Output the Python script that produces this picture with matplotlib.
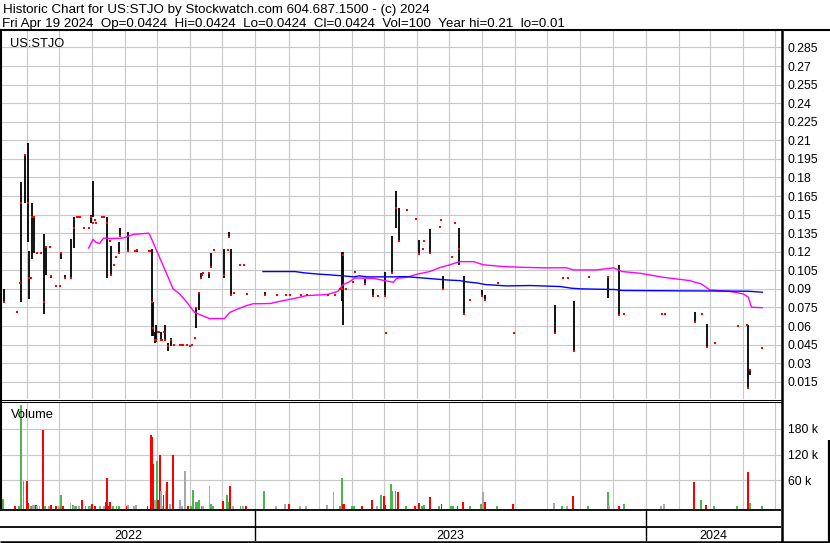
import numpy as np
import pandas as pd
import matplotlib
matplotlib.use("Agg")
import matplotlib.pyplot as plt
import matplotlib.dates as mdates
import matplotlib.transforms as mtransforms
from matplotlib.lines import Line2D


# ===============================
# Chart data
# ===============================

TITLE = "Historic Chart for US:STJO by Stockwatch.com 604.687.1500 - (c) 2024"
SUBTITLE = ("Fri Apr 19 2024  Op=0.0424  Hi=0.0424  Lo=0.0424  Cl=0.0424  "
            "Vol=100  Year hi=0.21  lo=0.01")
SYMBOL = "US:STJO"

# daily price bars: high / low range and close
price_dates = [
    "2022-05-11", "2022-05-23", "2022-05-26", "2022-05-27", "2022-05-30",
    "2022-06-02", "2022-06-03", "2022-06-05", "2022-06-06", "2022-06-08",
    "2022-06-11", "2022-06-14", "2022-06-17", "2022-06-19", "2022-06-23",
    "2022-06-24", "2022-06-28", "2022-07-02", "2022-07-03", "2022-07-07",
    "2022-07-12", "2022-07-15", "2022-07-18", "2022-07-19", "2022-07-21",
    "2022-07-25", "2022-07-29", "2022-07-31", "2022-08-02", "2022-08-04",
    "2022-08-05", "2022-08-10", "2022-08-11", "2022-08-12", "2022-08-15",
    "2022-08-18", "2022-08-19", "2022-08-22", "2022-08-24", "2022-08-26",
    "2022-08-27", "2022-09-04", "2022-09-10", "2022-09-12", "2022-09-23",
    "2022-09-24", "2022-09-26", "2022-09-27", "2022-09-29", "2022-09-30",
    "2022-10-02", "2022-10-03", "2022-10-05", "2022-10-06", "2022-10-07",
    "2022-10-08", "2022-10-11", "2022-10-14", "2022-10-17", "2022-10-22",
    "2022-10-24", "2022-10-25", "2022-10-29", "2022-11-01", "2022-11-03",
    "2022-11-05", "2022-11-06", "2022-11-09", "2022-11-11", "2022-11-12",
    "2022-11-13", "2022-11-19", "2022-11-20", "2022-11-23", "2022-12-03",
    "2022-12-06", "2022-12-07", "2022-12-09", "2022-12-12", "2022-12-18",
    "2022-12-21", "2022-12-24", "2023-01-10", "2023-01-21", "2023-01-30",
    "2023-02-02", "2023-02-13", "2023-02-18", "2023-03-10", "2023-03-16",
    "2023-03-21", "2023-03-23", "2023-03-24", "2023-03-27", "2023-04-02",
    "2023-04-04", "2023-04-13", "2023-04-21", "2023-04-26", "2023-05-02",
    "2023-05-03", "2023-05-09", "2023-05-12", "2023-05-15", "2023-05-23",
    "2023-05-31", "2023-06-03", "2023-06-07", "2023-06-08", "2023-06-13",
    "2023-06-23", "2023-06-24", "2023-06-25", "2023-07-04", "2023-07-07",
    "2023-07-10", "2023-07-15", "2023-07-21", "2023-08-01", "2023-08-04",
    "2023-08-16", "2023-08-31", "2023-10-08", "2023-10-16", "2023-10-20",
    "2023-10-26", "2023-11-09", "2023-11-27", "2023-12-07", "2023-12-12",
    "2024-01-16", "2024-01-19", "2024-02-16", "2024-02-23", "2024-02-27",
    "2024-03-06", "2024-03-27", "2024-04-05", "2024-04-06", "2024-04-08",
    "2024-04-19",
]
price_high = [
    0.090, 0.071, 0.0945, 0.176, 0.198,
    0.208, 0.121, 0.099, 0.159, 0.148,
    0.119, 0.119, 0.134, 0.124, 0.124,
    0.101, 0.092, 0.092, 0.119, 0.101,
    0.130, 0.148, 0.148, 0.148, 0.148,
    0.139, 0.139, 0.150, 0.177, 0.146,
    0.1435, 0.148, 0.148, 0.148, 0.148,
    0.129, 0.125, 0.109, 0.116, 0.128,
    0.139, 0.136, 0.121, 0.1215, 0.121,
    0.121, 0.122, 0.079, 0.055, 0.0605,
    0.055, 0.055, 0.055, 0.049, 0.055,
    0.0605, 0.046, 0.050, 0.0445, 0.0445,
    0.0445, 0.0445, 0.0445, 0.0437, 0.0445,
    0.050, 0.075, 0.087, 0.103, 0.101,
    0.103, 0.103, 0.119, 0.1215, 0.122,
    0.1215, 0.136, 0.122, 0.0865, 0.1095,
    0.1095, 0.0857, 0.0877, 0.0854, 0.0854,
    0.0854, 0.0854, 0.0854, 0.0854, 0.0854,
    0.0895, 0.120, 0.120, 0.0895, 0.0953,
    0.104, 0.098, 0.090, 0.084, 0.104,
    0.0544, 0.133, 0.169, 0.155, 0.1537,
    0.1467, 0.1296, 0.122, 0.129, 0.138,
    0.140, 0.1457, 0.100, 0.116, 0.1435,
    0.139, 0.100, 0.0814, 0.0887, 0.085,
    0.0945, 0.0544, 0.077, 0.0986, 0.0986,
    0.080, 0.0994, 0.0994, 0.1095, 0.0697,
    0.0697, 0.0697, 0.0712, 0.0697, 0.0613,
    0.0463, 0.060, 0.0605, 0.0605, 0.025,
    0.0424,
]
price_low = [
    0.079, 0.071, 0.0945, 0.079, 0.159,
    0.128, 0.082, 0.099, 0.114, 0.119,
    0.119, 0.119, 0.070, 0.101, 0.124,
    0.099, 0.092, 0.092, 0.114, 0.099,
    0.099, 0.123, 0.148, 0.148, 0.148,
    0.139, 0.139, 0.1435, 0.148, 0.146,
    0.1435, 0.148, 0.148, 0.148, 0.099,
    0.129, 0.101, 0.109, 0.116, 0.119,
    0.133, 0.121, 0.121, 0.120, 0.121,
    0.121, 0.052, 0.052, 0.046, 0.047,
    0.055, 0.055, 0.049, 0.049, 0.055,
    0.049, 0.040, 0.0437, 0.0445, 0.0445,
    0.0445, 0.0445, 0.0445, 0.0437, 0.0445,
    0.050, 0.058, 0.0726, 0.099, 0.101,
    0.103, 0.099, 0.108, 0.1215, 0.099,
    0.1215, 0.132, 0.085, 0.0865, 0.1095,
    0.1095, 0.0857, 0.0854, 0.0854, 0.0854,
    0.0854, 0.0854, 0.0854, 0.0854, 0.0854,
    0.0895, 0.080, 0.0605, 0.0895, 0.0953,
    0.104, 0.094, 0.084, 0.084, 0.084,
    0.0544, 0.103, 0.139, 0.129, 0.1537,
    0.1467, 0.1176, 0.122, 0.129, 0.119,
    0.140, 0.1457, 0.0895, 0.116, 0.1435,
    0.109, 0.070, 0.0814, 0.084, 0.0814,
    0.0945, 0.0544, 0.0544, 0.0986, 0.0986,
    0.040, 0.0994, 0.0828, 0.069, 0.0697,
    0.0697, 0.0697, 0.0632, 0.0697, 0.0431,
    0.0463, 0.060, 0.0605, 0.0102, 0.0204,
    0.0424,
]
price_close = [
    0.079, 0.071, 0.0945, 0.159, 0.198,
    0.159, 0.099, 0.099, 0.148, 0.148,
    0.119, 0.119, 0.079, 0.124, 0.124,
    0.100, 0.092, 0.092, 0.119, 0.099,
    0.099, 0.139, 0.148, 0.148, 0.148,
    0.139, 0.139, 0.148, 0.1435, 0.146,
    0.1435, 0.148, 0.148, 0.148, 0.1435,
    0.129, 0.101, 0.109, 0.116, 0.119,
    0.133, 0.121, 0.121, 0.1215, 0.121,
    0.121, 0.079, 0.058, 0.049, 0.049,
    0.055, 0.055, 0.049, 0.049, 0.055,
    0.049, 0.044, 0.049, 0.0445, 0.0445,
    0.0445, 0.0445, 0.0445, 0.0437, 0.0445,
    0.050, 0.0745, 0.087, 0.099, 0.101,
    0.103, 0.103, 0.108, 0.1215, 0.101,
    0.1215, 0.132, 0.085, 0.0865, 0.1095,
    0.1095, 0.0857, 0.0854, 0.0854, 0.0854,
    0.0854, 0.0854, 0.0854, 0.0854, 0.0854,
    0.0895, 0.0895, 0.117, 0.0895, 0.0953,
    0.104, 0.094, 0.084, 0.084, 0.084,
    0.0544, 0.103, 0.1555, 0.129, 0.1537,
    0.1467, 0.118, 0.122, 0.129, 0.119,
    0.140, 0.1457, 0.0895, 0.116, 0.1435,
    0.122, 0.070, 0.0814, 0.084, 0.0814,
    0.0945, 0.0544, 0.0544, 0.0986, 0.0986,
    0.040, 0.0994, 0.0994, 0.069, 0.0697,
    0.0697, 0.0697, 0.063, 0.0697, 0.043,
    0.0463, 0.060, 0.0605, 0.0102, 0.0245,
    0.0424,
]

# short moving average (magenta)
ma_short_dates = [
    "2022-07-29", "2022-08-02", "2022-08-05", "2022-08-08", "2022-08-12",
    "2022-08-18", "2022-08-30", "2022-09-09", "2022-09-23", "2022-09-24",
    "2022-10-02", "2022-10-10", "2022-10-16", "2022-10-22", "2022-10-29",
    "2022-11-05", "2022-11-19", "2022-12-03", "2022-12-08", "2022-12-16",
    "2022-12-24", "2022-12-30", "2023-01-05", "2023-01-15", "2023-01-24",
    "2023-02-05", "2023-02-18", "2023-03-09", "2023-03-19", "2023-03-24",
    "2023-03-29", "2023-04-04", "2023-04-21", "2023-05-02", "2023-05-10",
    "2023-05-13", "2023-05-22", "2023-06-02", "2023-06-13", "2023-06-23",
    "2023-07-02", "2023-07-11", "2023-07-24", "2023-08-02", "2023-08-21",
    "2023-09-09", "2023-09-27", "2023-10-19", "2023-10-25", "2023-11-16",
    "2023-12-02", "2023-12-10", "2023-12-27", "2024-01-17", "2024-02-11",
    "2024-02-22", "2024-03-01", "2024-03-20", "2024-04-01", "2024-04-06",
    "2024-04-09", "2024-04-19",
]
ma_short = [
    0.123, 0.130, 0.1275, 0.1267, 0.131,
    0.1307, 0.131, 0.134, 0.135, 0.134,
    0.118, 0.102, 0.090, 0.086, 0.079,
    0.071, 0.066, 0.066, 0.071, 0.074,
    0.0766, 0.078, 0.078, 0.0782, 0.080,
    0.082, 0.0846, 0.0854, 0.088, 0.0935,
    0.0953, 0.0988, 0.0985, 0.0967, 0.0953,
    0.0985, 0.0993, 0.102, 0.104, 0.1074,
    0.1095, 0.112, 0.112, 0.1095, 0.108,
    0.1074, 0.107, 0.107, 0.1053, 0.1053,
    0.107, 0.104, 0.1026, 0.0994, 0.0967,
    0.094, 0.0892, 0.0879, 0.086, 0.0833,
    0.0752, 0.0748,
]

# long moving average (blue)
ma_long_dates = [
    "2023-01-08", "2023-02-07", "2023-02-16", "2023-02-28", "2023-03-12",
    "2023-03-24", "2023-04-03", "2023-04-08", "2023-04-16", "2023-05-10",
    "2023-05-21", "2023-06-02", "2023-06-29", "2023-07-11", "2023-07-18",
    "2023-07-27", "2023-08-04", "2023-08-24", "2023-09-15", "2023-10-13",
    "2023-10-24", "2023-11-02", "2023-12-03", "2023-12-10", "2024-04-06",
    "2024-04-19",
]
ma_long = [
    0.104, 0.104, 0.1029, 0.102, 0.1013,
    0.1005, 0.0997, 0.1005, 0.0997, 0.0997,
    0.0999, 0.0991, 0.0972, 0.0967, 0.0956,
    0.0948, 0.0935, 0.0924, 0.0927, 0.0919,
    0.0905, 0.090, 0.0895, 0.0887, 0.0881,
    0.0873,
]

# daily volume in thousands of shares, with up / down / unchanged flag
vol_dates = [
    "2022-05-10", "2022-05-21", "2022-05-25", "2022-05-27", "2022-05-29",
    "2022-06-01", "2022-06-02", "2022-06-05", "2022-06-07", "2022-06-09",
    "2022-06-10", "2022-06-11", "2022-06-13", "2022-06-16", "2022-06-18",
    "2022-06-22", "2022-06-24", "2022-06-28", "2022-07-01", "2022-07-03",
    "2022-07-05", "2022-07-12", "2022-07-14", "2022-07-15", "2022-07-17",
    "2022-07-20", "2022-07-23", "2022-07-26", "2022-07-29", "2022-07-30",
    "2022-08-01", "2022-08-04", "2022-08-09", "2022-08-12", "2022-08-14",
    "2022-08-15", "2022-08-16", "2022-08-18", "2022-08-21", "2022-08-24",
    "2022-08-26", "2022-09-03", "2022-09-04", "2022-09-09", "2022-09-11",
    "2022-09-22", "2022-09-25", "2022-09-26", "2022-09-27", "2022-09-29",
    "2022-10-01", "2022-10-02", "2022-10-04", "2022-10-05", "2022-10-06",
    "2022-10-07", "2022-10-09", "2022-10-10", "2022-10-13", "2022-10-16",
    "2022-10-22", "2022-10-24", "2022-10-27", "2022-10-30", "2022-11-02",
    "2022-11-04", "2022-11-06", "2022-11-08", "2022-11-09", "2022-11-12",
    "2022-11-13", "2022-11-19", "2022-11-20", "2022-11-22", "2022-12-02",
    "2022-12-05", "2022-12-06", "2022-12-08", "2022-12-11", "2022-12-18",
    "2022-12-20", "2022-12-23", "2023-01-09", "2023-01-20", "2023-01-29",
    "2023-02-01", "2023-02-12", "2023-02-17", "2023-03-09", "2023-03-15",
    "2023-03-21", "2023-03-23", "2023-03-24", "2023-03-25", "2023-04-01",
    "2023-04-03", "2023-04-11", "2023-04-20", "2023-04-25", "2023-04-28",
    "2023-05-01", "2023-05-02", "2023-05-08", "2023-05-09", "2023-05-12",
    "2023-05-14", "2023-05-22", "2023-05-30", "2023-06-03", "2023-06-06",
    "2023-06-08", "2023-06-13", "2023-06-22", "2023-06-24", "2023-07-03",
    "2023-07-05", "2023-07-09", "2023-07-14", "2023-07-21", "2023-07-31",
    "2023-08-02", "2023-08-04", "2023-08-15", "2023-08-30", "2023-10-07",
    "2023-10-15", "2023-10-19", "2023-10-25", "2023-11-08", "2023-11-27",
    "2023-11-28", "2023-12-07", "2023-12-12", "2024-01-15", "2024-01-18",
    "2024-02-15", "2024-02-22", "2024-02-26", "2024-03-05", "2024-03-26",
    "2024-04-06", "2024-04-08", "2024-04-19",
]
vol_k = [
    16.9, 0.2, 0.2, 233.8, 58.4,
    58.4, 6.9, 0.2, 3.0, 3.0,
    3.0, 0.2, 0.2, 178.1, 0.2,
    0.2, 3.0, 0.2, 0.2, 26.1,
    0.2, 6.9, 3.0, 0.2, 0.7,
    0.2, 14.6, 0.7, 0.7, 0.2,
    5.3, 0.7, 0.2, 0.2, 9.3,
    64.6, 0.7, 9.3, 0.7, 0.2,
    0.2, 0.2, 3.0, 0.2, 3.0,
    0.2, 166.1, 160.7, 97.6, 14.6,
    104.6, 14.6, 118.4, 35.3, 0.7,
    26.1, 34.6, 55.4, 5.3, 120.1,
    14.6, 0.2, 81.5, 0.2, 0.2,
    37.6, 10.6, 10.6, 14.6, 0.2,
    0.2, 46.9, 5.3, 0.2, 12.3,
    26.1, 10.6, 46.9, 0.2, 0.2,
    0.7, 0.7, 35.3, 0.7, 5.3,
    5.3, 0.2, 0.2, 3.0, 32.3,
    0.7, 65.3, 5.3, 5.3, 0.2,
    0.2, 0.2, 14.6, 0.2, 26.1,
    23.8, 3.0, 51.5, 35.3, 35.3,
    32.3, 0.2, 0.2, 6.9, 0.2,
    3.0, 20.8, 0.2, 5.3, 0.2,
    0.2, 0.2, 9.3, 0.2, 5.3,
    32.3, 9.3, 0.2, 5.3, 6.9,
    0.2, 0.2, 23.8, 0.7, 32.3,
    0.7, 0.7, 5.3, 0.2, 5.3,
    55.4, 14.6, 3.0, 0.2, 0.2,
    79.1, 6.9, 0.2,
]
vol_dir = [
    "u", "d", "u", "u", "u",
    "d", "d", "u", "n", "n",
    "d", "n", "n", "d", "u",
    "n", "d", "d", "n", "u",
    "d", "n", "u", "n", "u",
    "n", "d", "u", "u", "n",
    "d", "d", "n", "n", "d",
    "d", "d", "d", "u", "u",
    "u", "d", "n", "n", "n",
    "d", "d", "d", "d", "n",
    "u", "d", "d", "n", "n",
    "d", "n", "d", "n", "d",
    "n", "n", "n", "d", "u",
    "u", "u", "u", "u", "u",
    "n", "n", "u", "u", "d",
    "u", "u", "d", "n", "u",
    "n", "d", "u", "n", "n",
    "d", "n", "n", "n", "n",
    "u", "u", "d", "d", "u",
    "u", "d", "d", "n", "u",
    "d", "d", "u", "u", "u",
    "d", "u", "d", "d", "u",
    "u", "d", "u", "d", "u",
    "u", "d", "d", "u", "u",
    "n", "d", "u", "d", "n",
    "u", "n", "d", "u", "u",
    "n", "d", "u", "n", "n",
    "d", "u", "d", "u", "u",
    "d", "u", "u",
]

price_ticks = [0.015, 0.03, 0.045, 0.06, 0.075, 0.09, 0.105, 0.12, 0.135,
               0.15, 0.165, 0.18, 0.195, 0.21, 0.225, 0.24, 0.255, 0.27,
               0.285]
price_tick_labels = ["0.015", "0.03", "0.045", "0.06", "0.075", "0.09",
                     "0.105", "0.12", "0.135", "0.15", "0.165", "0.18",
                     "0.195", "0.21", "0.225", "0.24", "0.255", "0.27",
                     "0.285"]
vol_ticks = [60, 120, 180]
vol_tick_labels = ["60 k", "120 k", "180 k"]
years = [2022, 2023, 2024]


# ===============================
# Layout (pixels of an 830 x 543 image)
# ===============================

W, H = 830, 543
X_LEFT = pd.Timestamp("2022-05-08 22:00")
X_RIGHT = pd.Timestamp("2024-05-06 14:00")
PRICE_LIM = (0.00105, 0.2983)
VOL_LIM = (-6.9, 241.9)

GRID = "#c8c8c8"
RED = "#ff0000"
DIR_COLORS = {"u": "#4cb54c", "d": "#ff0000", "n": "#a8a8a8"}

plt.rcParams["font.family"] = ["Liberation Sans", "DejaVu Sans"]


def rect(x0, y0, x1, y1):
    return [x0 / W, 1 - y1 / H, (x1 - x0) / W, (y1 - y0) / H]


def fig_line(fig, x0, y0, x1, y1, lw):
    fig.add_artist(Line2D([x0 / W, x1 / W], [1 - y0 / H, 1 - y1 / H],
                          transform=fig.transFigure, color="black",
                          lw=lw, solid_capstyle="butt"))


def style_panel(ax):
    for s in ax.spines.values():
        s.set_visible(False)
    ax.set_xlim(X_LEFT, X_RIGHT)
    ax.xaxis.set_major_locator(mdates.MonthLocator())
    ax.tick_params(axis="x", length=0, labelbottom=False)
    ax.yaxis.tick_right()
    ax.tick_params(axis="y", length=0, pad=4.8, labelsize=8.8)
    ax.grid(True, color=GRID, lw=0.8)
    ax.set_axisbelow(True)


# ===============================
# Plot
# ===============================

def main():
    fig = plt.figure(figsize=(W / 100, H / 100), dpi=100)

    # ---- price panel
    ax = fig.add_axes(rect(2, 31, 781, 399))
    style_panel(ax)
    ax.set_ylim(*PRICE_LIM)
    ax.set_yticks(price_ticks)
    ax.set_yticklabels(price_tick_labels)

    pdates = pd.to_datetime(price_dates)
    hi = np.array(price_high)
    lo = np.array(price_low)
    cl = np.array(price_close)
    rng = hi > lo
    ax.vlines(pdates[rng], lo[rng], hi[rng], color="black", lw=1.3, zorder=3)
    ax.plot(pd.to_datetime(ma_short_dates), ma_short, color="#ff00ff",
            lw=1.0, zorder=4)
    ax.plot(pd.to_datetime(ma_long_dates), ma_long, color="#0000ff",
            lw=1.0, zorder=4)
    ax.plot(pdates, cl, "s", color=RED, ms=1.9, mew=0, zorder=5)
    ax.text(8 / 779, 1 - (46.7 - 31) / 368, SYMBOL, transform=ax.transAxes,
            fontsize=9.3, va="baseline")

    # ---- volume panel
    axv = fig.add_axes(rect(2, 402, 781, 509.3))
    style_panel(axv)
    axv.set_ylim(*VOL_LIM)
    axv.set_yticks(vol_ticks)
    axv.set_yticklabels(vol_tick_labels)
    vk = np.array(vol_k)
    axv.bar(pd.to_datetime(vol_dates), vk - VOL_LIM[0], bottom=VOL_LIM[0],
            width=1.8, color=[DIR_COLORS[d] for d in vol_dir], zorder=3)
    axv.text(9 / 779, 1 - (417.7 - 402) / 107.3, "Volume",
             transform=axv.transAxes, fontsize=9.3, va="baseline")

    # ---- date band
    axd = fig.add_axes(rect(2, 509.3, 781, 541))
    axd.set_axis_off()
    axd.set_xlim(X_LEFT, X_RIGHT)
    axd.set_ylim(0, 1)
    trans = mtransforms.blended_transform_factory(axd.transData, axd.transAxes)
    for yr in years:
        start = max(pd.Timestamp(f"{yr}-01-01"), X_LEFT)
        end = min(pd.Timestamp(f"{yr + 1}-01-01"), X_RIGHT)
        if start > X_LEFT:
            axd.axvline(start, color="black", lw=1.0)
        mid = start + (end - start) / 2
        axd.text(mid, (541 - 539.3) / 31.7, str(yr), transform=trans,
                 ha="center", va="baseline", fontsize=9)

    # ---- frame lines
    fig_line(fig, 0, 30, W, 30, 1.5)          # under header
    fig_line(fig, 1, 30, 1, 509, 1.5)         # left edge
    fig_line(fig, 781.7, 29, 781.7, 543, 1.8)  # right axis line
    fig_line(fig, 0, 399.5, 781, 399.5, 0.75)  # double rule between panels
    fig_line(fig, 0, 401.5, 781, 401.5, 0.75)
    fig_line(fig, 0, 509.8, 781, 509.8, 1.3)  # under volume
    fig_line(fig, 0, 526.8, 781, 526.8, 1.3)  # date rows
    fig_line(fig, 0, 541.8, W, 541.8, 1.8)    # bottom
    fig_line(fig, 829, 440, 829, 543, 1.6)    # right edge

    # ---- header
    fig.text(3 / W, 1 - 12.7 / H, TITLE, fontsize=9.6, va="baseline")
    fig.text(2 / W, 1 - 26.8 / H, SUBTITLE, fontsize=9.6, va="baseline")

    fig.savefig("out.png", dpi=100, facecolor="white")


if __name__ == "__main__":
    main()
